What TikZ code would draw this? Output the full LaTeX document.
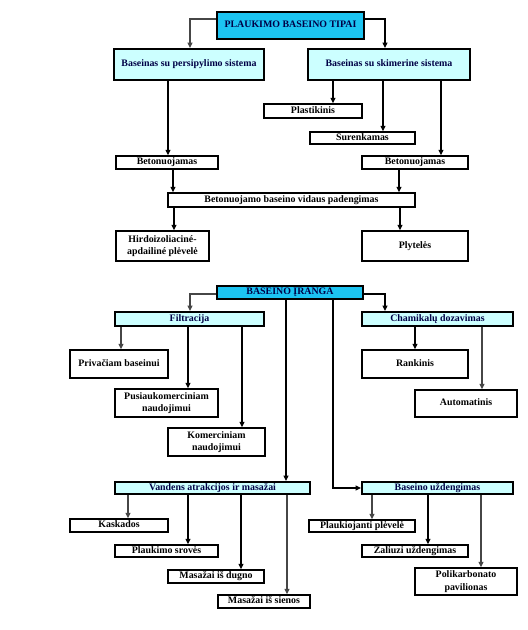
\documentclass[tikz,border=0pt]{standalone}
\usepackage{fontspec}
\setmainfont{Liberation Serif}
\usetikzlibrary{arrows.meta}
\definecolor{titlecyan}{RGB}{28,196,242}
\definecolor{lightcyan}{RGB}{204,255,255}
\definecolor{navy}{RGB}{0,0,70}
\definecolor{gline}{RGB}{70,70,70}
\newcommand\mybox[7]{\node[#6, minimum width={(#4-#2)*1pt}, minimum height={(#5-#3)*1pt}] (#1) at ({(#2+#4)/2},{(#3+#5)/2}) {#7};}
\tikzset{
  base/.style={rectangle, inner sep=0pt, align=center, font=\bfseries\fontsize{9.9}{12.5}\selectfont},
  oneline/.style={text height=6.9pt, text depth=2.1pt},
  titlebox/.style={base, draw=black, line width=2.2pt, fill=titlecyan, text=navy},
  catbox/.style={base, draw=black, line width=2pt, fill=lightcyan, text=navy},
  leafbox/.style={base, draw=black, line width=1.4pt, fill=white, text=black},
  conn/.style={draw=black, line width=1.2pt, -{Triangle[length=5.5pt,width=5pt]}},
  gconn/.style={conn, draw=gline},
}
\begin{document}
\begin{tikzpicture}[x=1pt, y=-1pt]
\useasboundingbox[fill=white] (0,0) rectangle (528,630);
% top section
\mybox{T}{217}{12}{364}{39}{titlebox,oneline}{PLAUKIMO BASEINO TIPAI}
\mybox{P1}{114}{49}{264}{80}{catbox,oneline}{Baseinas su persipylimo sistema}
\mybox{P2}{308}{49}{470}{80}{catbox,oneline}{Baseinas su skimerine sistema}
\mybox{Pl}{264}{104}{362}{118}{leafbox,oneline}{Plastikinis}
\mybox{Su}{310}{132}{415}{144}{leafbox,oneline}{Surenkamas}
\mybox{B1}{116}{156}{218}{169}{leafbox,oneline}{Betonuojamas}
\mybox{B2}{362}{156}{468}{169}{leafbox,oneline}{Betonuojamas}
\mybox{Pd}{168}{193}{415}{207}{leafbox,oneline}{Betonuojamo baseino vidaus padengimas}
\mybox{Hi}{116}{231}{209}{261}{leafbox}{Hirdoizoliaciné-\\apdailiné plėvelė}
\mybox{Py}{362}{231}{468}{261}{leafbox,oneline}{Plytelės}
% bottom section
\mybox{E}{217}{286}{363}{299}{titlebox,oneline}{BASEINO ĮRANGA}
\mybox{F}{115}{312}{264}{326}{catbox,oneline}{Filtracija}
\mybox{Ch}{362}{312}{513}{326}{catbox,oneline}{Chamikalų dozavimas}
\mybox{Pr}{70}{350}{168}{378}{leafbox,oneline}{Privačiam baseinui}
\mybox{Pu}{115}{389}{218}{417}{leafbox}{Pusiaukomerciniam\\naudojimui}
\mybox{Ko}{168}{428}{265}{456}{leafbox}{Komerciniam\\naudojimui}
\mybox{Ra}{362}{350}{468}{378}{leafbox,oneline}{Rankinis}
\mybox{Au}{415}{390}{517}{417}{leafbox,oneline}{Automatinis}
\mybox{V}{115}{482}{310}{494}{catbox,oneline}{Vandens atrakcijos ir masažai}
\mybox{U}{362}{482}{513}{494}{catbox,oneline}{Baseino uždengimas}
\mybox{Ka}{70}{519}{168}{532}{leafbox,oneline}{Kaskados}
\mybox{Ps}{115}{545}{218}{557}{leafbox,oneline}{Plaukimo srovės}
\mybox{Md}{168}{570}{264}{583}{leafbox,oneline}{Masažai iš dugno}
\mybox{Ms}{218}{595}{310}{608}{leafbox,oneline}{Masažai iš sienos}
\mybox{Pk}{309}{520}{415}{532}{leafbox,oneline}{Plaukiojanti plėvelė}
\mybox{Za}{362}{545}{468}{557}{leafbox,oneline}{Žaliuzi uždengimas}
\mybox{Po}{415}{568}{517}{595}{leafbox}{Polikarbonato\\pavilionas}
% connectors top
\draw[gconn] (T.west |- 0,19) -| (P1.north -| 190,0);
\draw[conn] (T.east |- 0,19) -| (P2.north -| 385,0);
\draw[conn] (P1.south -| 168,0) -- (B1.north -| 168,0);
\draw[conn] (P2.south -| 333,0) -- (Pl.north -| 333,0);
\draw[conn] (P2.south -| 383,0) -- (Su.north -| 383,0);
\draw[conn] (P2.south -| 441,0) -- (B2.north -| 441,0);
\draw[conn] (B1.south -| 173,0) -- (Pd.north -| 173,0);
\draw[conn] (B2.south -| 399,0) -- (Pd.north -| 399,0);
\draw[conn] (Pd.south -| 174,0) -- (Hi.north -| 174,0);
\draw[conn] (Pd.south -| 400,0) -- (Py.north -| 400,0);
% connectors bottom
\draw[gconn] (E.west |- 0,294) -| (F.north -| 190,0);
\draw[conn] (E.east |- 0,294) -| (Ch.north -| 385,0);
\draw[gconn] (F.south -| 121,0) -- (Pr.north -| 121,0);
\draw[conn] (F.south -| 188,0) -- (Pu.north -| 188,0);
\draw[conn] (F.south -| 242,0) -- (Ko.north -| 242,0);
\draw[conn] (Ch.south -| 415,0) -- (Ra.north -| 415,0);
\draw[gconn] (Ch.south -| 482,0) -- (Au.north -| 482,0);
\draw[conn] (E.south -| 286,0) -- (V.north -| 286,0);
\draw[conn] (E.south -| 333,0) |- (U.west);
\draw[gconn] (V.south -| 128,0) -- (Ka.north -| 128,0);
\draw[conn] (V.south -| 188,0) -- (Ps.north -| 188,0);
\draw[conn] (V.south -| 241,0) -- (Md.north -| 241,0);
\draw[gconn] (V.south -| 287,0) -- (Ms.north -| 287,0);
\draw[gconn] (U.south -| 372,0) -- (Pk.north -| 372,0);
\draw[conn] (U.south -| 428,0) -- (Za.north -| 428,0);
\draw[gconn] (U.south -| 481,0) -- (Po.north -| 481,0);
\end{tikzpicture}
\end{document}
